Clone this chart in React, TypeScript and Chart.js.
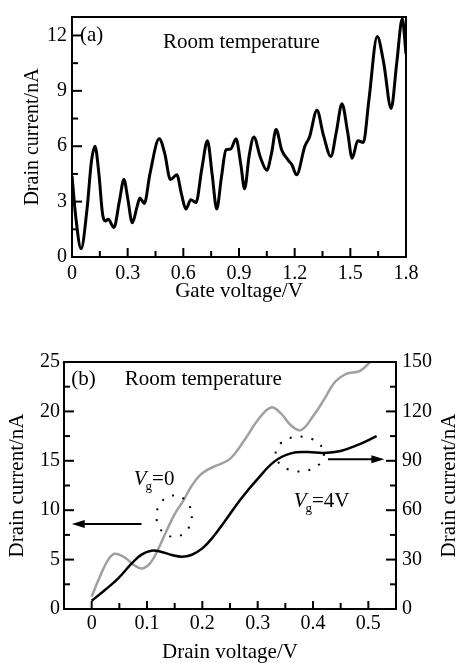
import React, { useEffect, useRef } from "react";
import { Chart, registerables } from "chart.js";

Chart.register(...registerables);

const FAMILY = "'Liberation Serif', 'Times New Roman', serif";

// ---------- (a) Drain current vs gate voltage ----------
const gateVoltage = [
  0, 0.02, 0.049, 0.08, 0.105, 0.124, 0.145, 0.165, 0.18, 0.195,
  0.226, 0.255, 0.28, 0.3, 0.325, 0.35, 0.366, 0.39, 0.42, 0.47,
  0.5, 0.53, 0.565, 0.59, 0.614, 0.64, 0.668, 0.7, 0.73, 0.755,
  0.78, 0.805, 0.83, 0.855, 0.884, 0.91, 0.93, 0.955, 0.98, 1.015,
  1.05, 1.075, 1.1, 1.13, 1.165, 1.185, 1.21, 1.255, 1.28, 1.32,
  1.355, 1.395, 1.425, 1.455, 1.485, 1.51, 1.54, 1.57, 1.6, 1.645,
  1.68, 1.72, 1.75, 1.78, 1.8,
];
const drainCurrentRT = [
  4.4, 2.2, 0.45, 2.5, 5.2, 6.0, 4.5, 2.3, 1.95, 2.05,
  1.6, 3.0, 4.2, 3.2, 1.85, 2.7, 3.2, 2.9, 4.5, 6.4,
  5.6, 4.2, 4.45, 3.4, 2.6, 3.1, 2.95, 4.8, 6.3, 4.5,
  2.6, 4.3, 5.8, 5.85, 6.4, 5.0, 3.7, 5.5, 6.5, 5.4,
  4.7, 5.6, 6.9, 5.8, 5.25, 5.0, 4.45, 6.0, 6.5, 7.95,
  6.6, 5.45, 6.8, 8.3, 6.8, 5.35, 6.3, 6.2, 8.5, 11.95,
  10.5, 8.05, 10.5, 12.9, 11.0,
];
const xTicksA = [0, 0.3, 0.6, 0.9, 1.2, 1.5, 1.8];
const xMinorA = [0.15, 0.45, 0.75, 1.05, 1.35, 1.65];
const yTicksA = [0, 3, 6, 9, 12];
const yMinorA = [1.5, 4.5, 7.5, 10.5];

// ---------- (b) Drain current vs drain voltage ----------
const drainVoltageVg0 = [
  0, 0.015, 0.03, 0.042, 0.06, 0.075, 0.09, 0.105, 0.118, 0.136,
  0.151, 0.166, 0.18, 0.195, 0.21, 0.225, 0.25, 0.275, 0.3, 0.324,
  0.342, 0.36, 0.378, 0.4, 0.42, 0.44, 0.46, 0.485, 0.51,
];
const drainCurrentVg0 = [
  1.25, 3.3, 5.0, 5.6, 5.2, 4.5, 4.1, 4.6, 5.8, 8.0,
  9.7, 11.0, 12.4, 13.5, 14.1, 14.5, 15.2, 17.0, 19.1, 20.4,
  19.8, 18.6, 18.1, 19.5, 21.2, 23.0, 23.8, 24.1, 25.4,
];
const drainVoltageVg4 = [
  0, 0.024, 0.048, 0.072, 0.09, 0.108, 0.125, 0.145, 0.163, 0.18,
  0.2, 0.22, 0.24, 0.27, 0.3, 0.33, 0.36, 0.39, 0.42, 0.45,
  0.48, 0.515,
];
const drainCurrentVg4 = [
  5, 11.5, 18.6, 27.5, 33, 35.4, 34.8, 32.8, 31.8, 32.8,
  36.8, 44, 53, 67, 79, 89.5, 94.5, 95.3, 94.8, 96.0,
  99.5, 105,
];
const xTicksB = [0, 0.1, 0.2, 0.3, 0.4, 0.5];
const xMinorB = [0.05, 0.15, 0.25, 0.35, 0.45];
const yTicksB = [0, 5, 10, 15, 20, 25];
const yMinorB = [2.5, 7.5, 12.5, 17.5, 22.5];
const y2TicksB = [0, 30, 60, 90, 120, 150];
const y2MinorB = [15, 45, 75, 105, 135];

// ---------- annotations (data units) ----------
const textsA = [
  { text: "(a)", x: 0.043, y: 12.0, axis: "y" },
  { text: "Room temperature", x: 0.49, y: 11.6, axis: "y" },
];
const textsB = [
  { text: "(b)", x: -0.037, y: 23.2, axis: "y" },
  { text: "Room temperature", x: 0.06, y: 23.2, axis: "y" },
];
const vgLabelsB = [
  { main: "V", sub: "g", rest: "=0", x: 0.076, y: 12.55, axis: "y" },
  { main: "V", sub: "g", rest: "=4V", x: 0.365, y: 62.1, axis: "y2" },
];
const ellipsesB = [
  { cx: 0.149, cy: 9.4, rx: 0.032, ry: 2.1, axis: "y" },
  { cx: 0.376, cy: 94.1, rx: 0.0437, ry: 10.6, axis: "y2" },
];
const arrowsB = [
  { x0: 0.09, x1: -0.036, y: 8.6, axis: "y" },
  { x0: 0.427, x1: 0.529, y: 91, axis: "y2" },
];

type TickSpec = {
  scaleId: string;
  side: "bottom" | "left" | "right";
  major: number[];
  minor: number[];
  majorLen: number;
  minorLen: number;
};

function makeDecor(cfg: {
  ticks: TickSpec[];
  texts?: any[];
  vg?: any[];
  ellipses?: any[];
  arrows?: any[];
  rightTitle?: { text: string; center: number };
}) {
  return {
    id: "decor",
    afterDatasetsDraw(chart: any) {
      const { ctx, chartArea: a, scales } = chart;
      ctx.save();
      ctx.strokeStyle = "#000";
      ctx.fillStyle = "#000";
      ctx.lineWidth = 2;
      ctx.lineCap = "butt";
      ctx.strokeRect(a.left, a.top, a.right - a.left, a.bottom - a.top);

      for (const t of cfg.ticks) {
        const s = scales[t.scaleId];
        const draw = (v: number, len: number) => {
          const p = s.getPixelForValue(v);
          ctx.beginPath();
          if (t.side === "bottom") {
            ctx.moveTo(p, a.bottom);
            ctx.lineTo(p, a.bottom - len);
          } else if (t.side === "left") {
            ctx.moveTo(a.left, p);
            ctx.lineTo(a.left + len, p);
          } else {
            ctx.moveTo(a.right, p);
            ctx.lineTo(a.right - len, p);
          }
          ctx.stroke();
        };
        t.major.forEach((v) => draw(v, t.majorLen));
        t.minor.forEach((v) => draw(v, t.minorLen));
      }

      const X = scales.x;
      (cfg.texts || []).forEach((t) => {
        ctx.font = `21px ${FAMILY}`;
        ctx.textAlign = "left";
        ctx.textBaseline = "middle";
        ctx.fillText(t.text, X.getPixelForValue(t.x), scales[t.axis].getPixelForValue(t.y));
      });

      (cfg.vg || []).forEach((t) => {
        let px = X.getPixelForValue(t.x);
        const py = scales[t.axis].getPixelForValue(t.y);
        ctx.textAlign = "left";
        ctx.textBaseline = "alphabetic";
        ctx.font = `italic 21px ${FAMILY}`;
        ctx.fillText(t.main, px, py);
        px += ctx.measureText(t.main).width;
        ctx.font = `13px ${FAMILY}`;
        ctx.fillText(t.sub, px - 1, py + 5);
        px += ctx.measureText(t.sub).width - 1;
        ctx.font = `21px ${FAMILY}`;
        ctx.fillText(t.rest, px, py);
      });

      (cfg.ellipses || []).forEach((e) => {
        const cx = X.getPixelForValue(e.cx);
        const cy = scales[e.axis].getPixelForValue(e.cy);
        const rx = Math.abs(X.getPixelForValue(e.cx + e.rx) - cx);
        const ry = Math.abs(scales[e.axis].getPixelForValue(e.cy + e.ry) - cy);
        ctx.save();
        ctx.lineWidth = 2;
        ctx.setLineDash([2, 9]);
        ctx.beginPath();
        ctx.ellipse(cx, cy, rx, ry, 0, 0, Math.PI * 2);
        ctx.stroke();
        ctx.restore();
      });

      (cfg.arrows || []).forEach((ar) => {
        const x0 = X.getPixelForValue(ar.x0);
        const x1 = X.getPixelForValue(ar.x1);
        const y = scales[ar.axis].getPixelForValue(ar.y);
        const dir = x1 > x0 ? 1 : -1;
        const head = 13;
        ctx.lineWidth = 2;
        ctx.beginPath();
        ctx.moveTo(x0, y);
        ctx.lineTo(x1 - dir * head * 0.8, y);
        ctx.stroke();
        ctx.beginPath();
        ctx.moveTo(x1, y);
        ctx.lineTo(x1 - dir * head, y - 4);
        ctx.lineTo(x1 - dir * head, y + 4);
        ctx.closePath();
        ctx.fill();
      });

      if (cfg.rightTitle) {
        ctx.save();
        ctx.font = `21px ${FAMILY}`;
        ctx.textAlign = "center";
        ctx.textBaseline = "middle";
        ctx.translate(cfg.rightTitle.center, (a.top + a.bottom) / 2);
        ctx.rotate(-Math.PI / 2);
        ctx.fillText(cfg.rightTitle.text, 0, 0);
        ctx.restore();
      }
      ctx.restore();
    },
  };
}

const tickFont = { family: FAMILY, size: 20 };
const titleFont = { family: FAMILY, size: 21, lineHeight: 1 };

function axisBase(ticks: number[], padding: number) {
  return {
    type: "linear",
    afterBuildTicks: (s: any) => {
      s.ticks = ticks.map((v) => ({ value: v }));
    },
    grid: { display: false, drawTicks: false },
    border: { display: false },
    ticks: {
      padding,
      font: tickFont,
      color: "#000",
      maxRotation: 0,
      autoSkip: false,
      callback: (v: any) => String(v),
    },
  };
}

function configA(): any {
  return {
    type: "line",
    data: {
      datasets: [
        {
          data: gateVoltage.map((x, i) => ({ x, y: drainCurrentRT[i] })),
          borderColor: "#000",
          borderWidth: 3,
          pointRadius: 0,
          cubicInterpolationMode: "monotone",
          fill: false,
        },
      ],
    },
    options: {
      animation: false,
      responsive: false,
      devicePixelRatio: 1,
      layout: { padding: { top: 9, right: 51, left: 0, bottom: 0 } },
      plugins: { legend: { display: false }, tooltip: { enabled: false } },
      scales: {
        x: {
          ...axisBase(xTicksA, 5),
          min: 0,
          max: 1.8,
          afterFit: (s: any) => {
            s.height = 63;
          },
          title: {
            display: true,
            text: "Gate voltage/V",
            font: titleFont,
            color: "#000",
            padding: { top: 0, bottom: 18 },
          },
        },
        y: {
          ...axisBase(yTicksA, 5),
          min: 0,
          max: 13,
          afterFit: (s: any) => {
            s.width = 72;
          },
          title: {
            display: true,
            text: "Drain current/nA",
            font: { family: FAMILY, size: 20, lineHeight: 1 },
            color: "#000",
            padding: { top: 23, bottom: 0 },
          },
        },
      },
    },
    plugins: [
      makeDecor({
        ticks: [
          { scaleId: "x", side: "bottom", major: xTicksA, minor: xMinorA, majorLen: 9, minorLen: 6 },
          { scaleId: "y", side: "left", major: yTicksA, minor: yMinorA, majorLen: 10, minorLen: 6 },
        ],
        texts: textsA,
      }),
    ],
  };
}

function configB(): any {
  return {
    type: "line",
    data: {
      datasets: [
        {
          data: drainVoltageVg4.map((x, i) => ({ x, y: drainCurrentVg4[i] })),
          yAxisID: "y2",
          borderColor: "#000",
          borderWidth: 2.5,
          pointRadius: 0,
          tension: 0.4,
          fill: false,
        },
        {
          data: drainVoltageVg0.map((x, i) => ({ x, y: drainCurrentVg0[i] })),
          yAxisID: "y",
          borderColor: "#a0a0a0",
          borderWidth: 2.5,
          pointRadius: 0,
          tension: 0.4,
          fill: false,
        },
      ],
    },
    options: {
      animation: false,
      responsive: false,
      devicePixelRatio: 1,
      layout: { padding: { top: 42, right: 0, left: 0, bottom: 0 } },
      plugins: { legend: { display: false }, tooltip: { enabled: false } },
      scales: {
        x: {
          ...axisBase(xTicksB, 3),
          min: -0.05,
          max: 0.55,
          afterFit: (s: any) => {
            s.height = 54;
          },
          title: {
            display: true,
            text: "Drain voltage/V",
            font: titleFont,
            color: "#000",
            padding: { top: 0, bottom: 0 },
          },
        },
        y: {
          ...axisBase(yTicksB, 4),
          position: "left",
          min: 0,
          max: 25,
          afterFit: (s: any) => {
            s.width = 64;
          },
          title: {
            display: true,
            text: "Drain current/nA",
            font: titleFont,
            color: "#000",
            padding: { top: 7, bottom: 0 },
          },
        },
        y2: {
          ...axisBase(y2TicksB, 6),
          position: "right",
          min: 0,
          max: 150,
          afterFit: (s: any) => {
            s.width = 61;
          },
          title: { display: false },
        },
      },
    },
    plugins: [
      makeDecor({
        ticks: [
          { scaleId: "x", side: "bottom", major: xTicksB, minor: xMinorB, majorLen: 8, minorLen: 6 },
          { scaleId: "y", side: "left", major: yTicksB, minor: yMinorB, majorLen: 10, minorLen: 6 },
          { scaleId: "y2", side: "right", major: y2TicksB, minor: y2MinorB, majorLen: 10, minorLen: 6 },
        ],
        texts: textsB,
        vg: vgLabelsB,
        ellipses: ellipsesB,
        arrows: arrowsB,
        rightTitle: { text: "Drain current/nA", center: 449.5 },
      }),
    ],
  };
}

function ChartCanvas(props: { make: () => any; top: number; height: number }) {
  const ref = useRef<HTMLCanvasElement | null>(null);
  useEffect(() => {
    if (!ref.current) return;
    const chart = new Chart(ref.current, props.make());
    return () => chart.destroy();
  }, []);
  return (
    <canvas
      ref={ref}
      width={457}
      height={props.height}
      style={{ position: "absolute", left: 0, top: props.top, width: 457, height: props.height }}
    />
  );
}

export default function App() {
  return (
    <div style={{ position: "absolute", left: 0, top: 0, width: 457, height: 663, background: "#fff", overflow: "hidden" }}>
      <ChartCanvas make={configA} top={0} height={320} />
      <ChartCanvas make={configB} top={320} height={343} />
    </div>
  );
}
